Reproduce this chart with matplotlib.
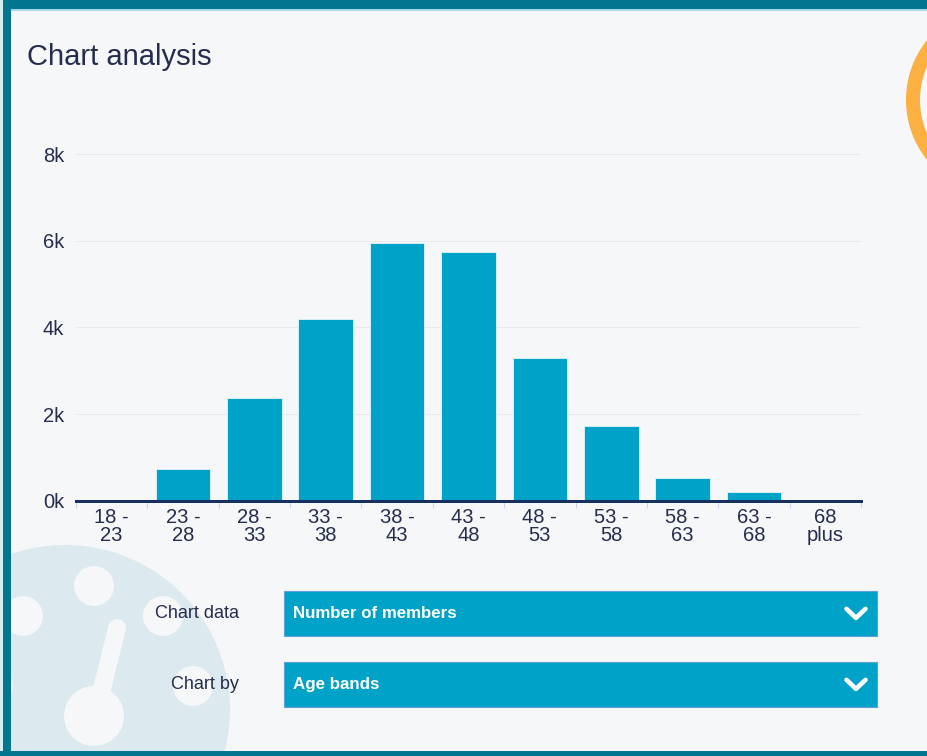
import matplotlib
matplotlib.use("Agg")
import matplotlib.pyplot as plt
import numpy as np
from matplotlib import patches

# ---- data -------------------------------------------------------------
age_bands = ["18 -\n23", "23 -\n28", "28 -\n33", "33 -\n38", "38 -\n43",
             "43 -\n48", "48 -\n53", "53 -\n58", "58 -\n63", "63 -\n68",
             "68\nplus"]
members = [0, 720, 2360, 4200, 5950, 5740, 3290, 1720, 520, 190, 0]
y_ticks = [0, 2000, 4000, 6000, 8000]
y_tick_labels = ["0k", "2k", "4k", "6k", "8k"]
chart_title = "Chart analysis"
control_labels = ["Chart data", "Chart by"]
control_values = ["Number of members", "Age bands"]

# ---- styling ----------------------------------------------------------
W, H = 927, 756
PX = 0.72  # points per pixel at 100 dpi
BG = "#f5f7f9"
BAR = "#00a3c7"
TEAL = "#02768f"
NAVY_TEXT = "#262d4c"
plt.rcParams["font.family"] = ["Liberation Sans", "DejaVu Sans"]

fig = plt.figure(figsize=(W / 100, H / 100), dpi=100, facecolor=BG)

# Full-figure layer in pixel units for the panel decoration and controls
deco = fig.add_axes([0, 0, 1, 1], zorder=0)
deco.set_xlim(0, W)
deco.set_ylim(H, 0)
deco.axis("off")

# faint emblem in the lower-left corner
deco.add_patch(patches.Circle((65, 710), 165, facecolor="#dce9ee", edgecolor="none"))
for cx, cy, r in [(94, 586, 20), (23, 616, 20), (163, 616, 20),
                  (193, 686, 20), (94, 716, 30), (-6, 687, 19)]:
    deco.add_patch(patches.Circle((cx, cy), r, facecolor=BG, edgecolor="none"))
deco.plot([117, 100], [628, 697], color=BG, lw=18 * PX, solid_capstyle="round")

# orange ring peeking in at the top-right
deco.add_patch(patches.Annulus((1002, 100), 96, 14, facecolor="#fdb042",
                               edgecolor="none"))

# title
deco.text(27, 65, chart_title, fontsize=21, color=NAVY_TEXT,
          ha="left", va="baseline")

# selector controls
box_tops = [590.7, 661.7]
box_h = 45.3
for lab, val, top in zip(control_labels, control_values, box_tops):
    cy = top + box_h / 2
    deco.add_patch(patches.Rectangle((284, top), 593, box_h, facecolor=BAR,
                                     edgecolor="#5fa0d6", lw=0.8))
    deco.text(293, cy, val, fontsize=12.2, fontweight="bold", color="white",
              ha="left", va="center")
    deco.text(239, cy, lab, fontsize=13, color=NAVY_TEXT,
              ha="right", va="center")
    deco.plot([846.5, 856, 865.5], [cy - 4.5, cy + 4.5, cy - 4.5],
              color="white", lw=4.6 * PX, solid_capstyle="round",
              solid_joinstyle="round")

# panel border (top, left, bottom)
deco.add_patch(patches.Rectangle((0, 0), W, 9, facecolor=TEAL, edgecolor="none"))
deco.add_patch(patches.Rectangle((0, 9), W, 1.5, facecolor="#a9d8e4", edgecolor="none"))
deco.add_patch(patches.Rectangle((0, 0), 3.5, H, facecolor="#d7edf2", edgecolor="none"))
deco.add_patch(patches.Rectangle((3.5, 0), 7.5, H, facecolor=TEAL, edgecolor="none"))
deco.add_patch(patches.Rectangle((0, 750.5), W, 5.5, facecolor=TEAL, edgecolor="none"))

# ---- bar chart --------------------------------------------------------
x0, x1 = 76, 861
y_base, y_top = 500.7, 154
ax = fig.add_axes([x0 / W, 1 - y_base / H, (x1 - x0) / W, (y_base - y_top) / H],
                  zorder=2)
ax.patch.set_alpha(0)

xpos = np.arange(len(members))
ax.bar(xpos, members, width=0.765, color=BAR, edgecolor="#e6f3f7",
       linewidth=0.6, zorder=3)
ax.set_xlim(-0.5, len(members) - 0.5)
ax.set_ylim(0, 8000)

ax.set_yticks(y_ticks, y_tick_labels)
ax.set_xticks(xpos, age_bands)
ax.set_xticks(np.arange(-0.5, len(members), 1), minor=True)
ax.tick_params(axis="x", which="major", length=0, pad=5, labelsize=14.5,
               labelcolor=NAVY_TEXT)
ax.tick_params(axis="x", which="minor", length=7 * PX, width=0.8,
               color="#ccd6eb", direction="out")
ax.tick_params(axis="y", which="both", length=0, pad=8.6, labelsize=14.5,
               labelcolor=NAVY_TEXT)
for lbl in ax.get_xticklabels():
    lbl.set_linespacing(0.95)

for side in ["top", "right", "left"]:
    ax.spines[side].set_visible(False)
ax.spines["bottom"].set_color("#16315f")
ax.spines["bottom"].set_linewidth(3 * PX)
ax.spines["bottom"].set_zorder(4)

ax.grid(axis="y", color="#e8eaed", lw=0.8)
ax.set_axisbelow(True)

fig.savefig("out.png", dpi=100, facecolor=BG)
